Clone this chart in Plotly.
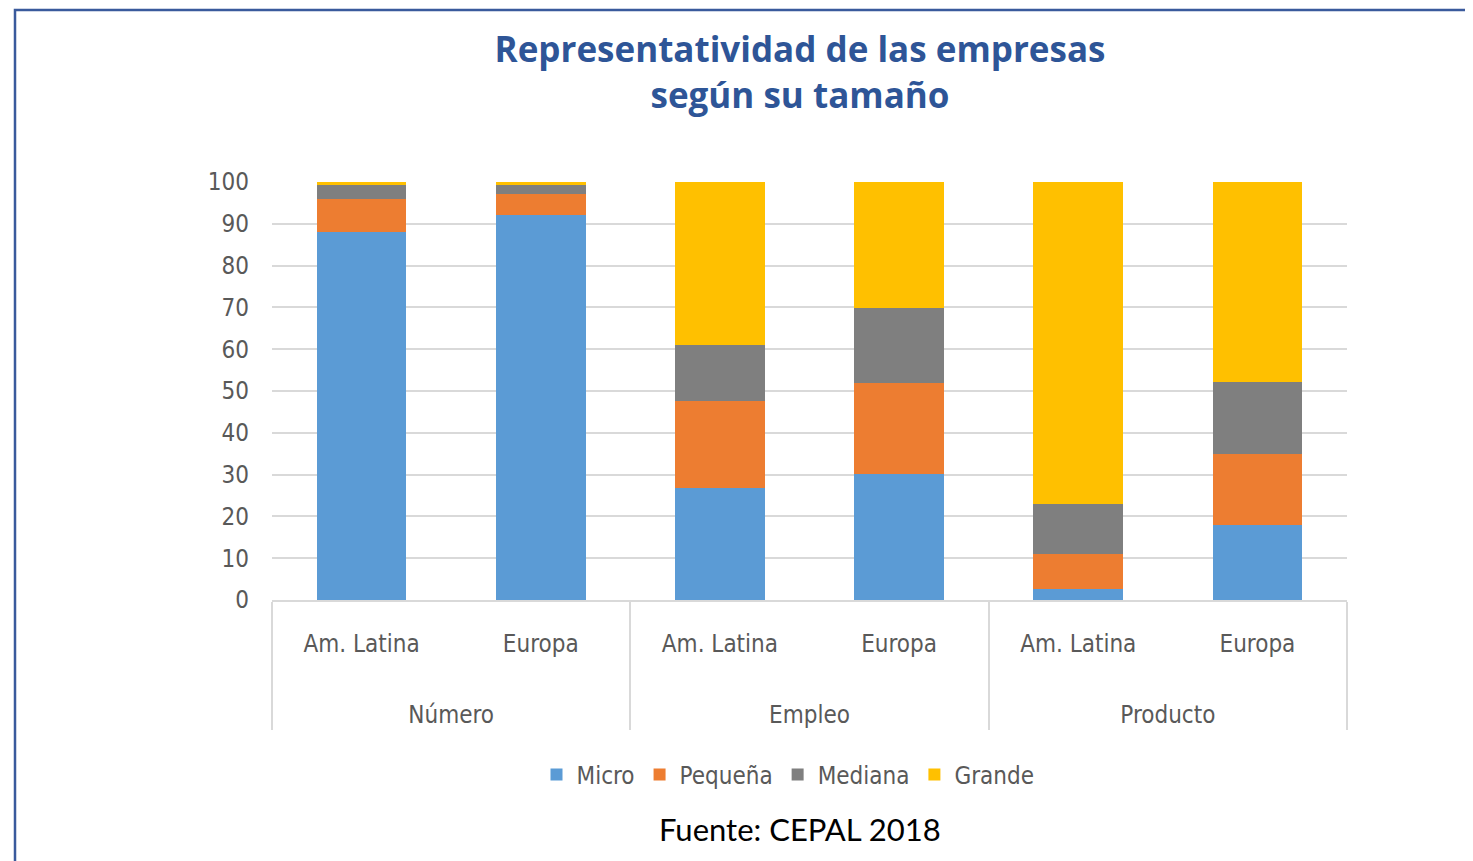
import plotly.graph_objects as go

groups = ["Número", "Número", "Empleo", "Empleo", "Producto", "Producto"]
regions = ["Am. Latina", "Europa", "Am. Latina", "Europa", "Am. Latina", "Europa"]

micro = [88.0, 92.2, 26.8, 30.1, 2.6, 18.0]
pequena = [8.0, 5.0, 20.9, 21.7, 8.4, 17.0]
mediana = [3.3, 2.1, 13.3, 18.0, 12.0, 17.2]
grande = [0.7, 0.7, 39.0, 30.2, 77.0, 47.8]

series = [
    ("Micro", micro, "#5B9BD5"),
    ("Pequeña", pequena, "#ED7D31"),
    ("Mediana", mediana, "#7F7F7F"),
    ("Grande", grande, "#FFC000"),
]

OFF = 8  # page body margin
W, H = 1473 - OFF, 861 - OFF
L, T = 272 - OFF, 182 - OFF
R = W - (1347 - OFF)
B = H - (600 - OFF)
pw, ph = W - L - R, H - T - B

def px_x(x):
    return (x - OFF - L) / pw

def px_y(y):
    return (H - B - (y - OFF)) / ph

group_labels = ["<br><br>" + g for g in groups]

fig = go.Figure()
for name, vals, color in series:
    fig.add_trace(go.Bar(
        name=name,
        x=[group_labels, regions],
        y=vals,
        marker=dict(color=color, line=dict(width=0)),
    ))

tick_font = dict(family="Liberation Sans Narrow, Arial Narrow, DejaVu Sans Condensed, sans-serif",
                 size=24, color="#595959")

fig.update_layout(
    width=W, height=H,
    barmode="stack",
    bargap=0.5,
    paper_bgcolor="white",
    plot_bgcolor="white",
    margin=dict(l=L, r=R, t=T, b=B),
    title=dict(
        text="<b>Representatividad de las empresas<br>según su tamaño</b>",
        x=(800 - OFF) / W, xanchor="center",
        y=1 - (62 - OFF) / H, yanchor="middle",
        font=dict(family="Open Sans, Lato, sans-serif", size=35, color="#2E5597"),
    ),
    xaxis=dict(
        type="multicategory",
        tickfont=tick_font,
        showline=True, linecolor="#D9D9D9", linewidth=1.5,
        showdividers=True, dividercolor="#D9D9D9", dividerwidth=1.5,
        ticks="", showgrid=False,
        ticklabelstandoff=21,
    ),
    yaxis=dict(
        range=[0, 100],
        dtick=10,
        tickfont=tick_font,
        showgrid=True, gridcolor="#D9D9D9", gridwidth=1.5,
        zeroline=False,
        ticks="",
        ticklabelstandoff=22,
    ),
    legend=dict(
        orientation="h",
        x=px_x(788), xanchor="center",
        y=px_y(775), yanchor="middle",
        font=tick_font,
        traceorder="normal",
        itemwidth=30,
    ),
    shapes=[
        dict(type="rect", xref="paper", yref="paper",
             x0=px_x(15), x1=px_x(1600), y0=px_y(1000), y1=px_y(10),
             line=dict(color="#3A5A9C", width=2.5), layer="above"),
    ],
    annotations=[
        dict(text="Fuente: CEPAL 2018", xref="paper", yref="paper",
             x=px_x(800), y=px_y(829), xanchor="center", yanchor="middle",
             showarrow=False,
             font=dict(family="Lato, Open Sans, sans-serif", size=31, color="#000000")),
    ],
)

fig.write_html("out.html")
